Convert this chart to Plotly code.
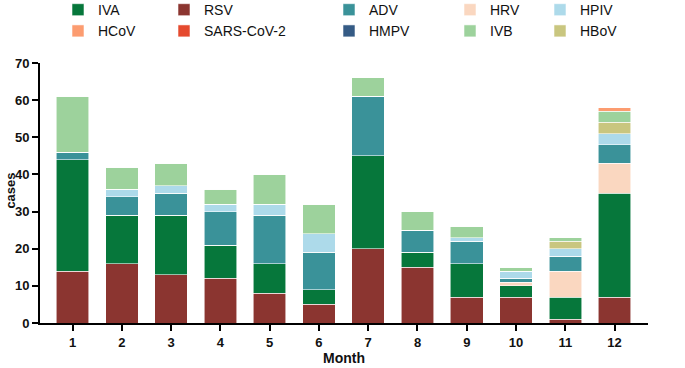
import plotly.graph_objects as go

months = [1, 2, 3, 4, 5, 6, 7, 8, 9, 10, 11, 12]

# stacked from bottom to top
RSV  = [14, 16, 13, 12, 8, 5, 20, 15, 7, 7, 1, 7]
IVA  = [30, 13, 16, 9, 8, 4, 25, 4, 9, 3, 6, 28]
HRV  = [0, 0, 0, 0, 0, 0, 0, 0, 0, 1, 7, 8]
ADV  = [2, 5, 6, 9, 13, 10, 16, 6, 6, 1, 4, 5]
HMPV = [0, 0, 0, 0, 0, 0, 0, 0, 0, 0, 0, 0]
HPIV = [0, 2, 2, 2, 3, 5, 0, 0, 1, 2, 2, 3]
HBoV = [0, 0, 0, 0, 0, 0, 0, 0, 0, 0, 2, 3]
IVB  = [15, 6, 6, 4, 8, 8, 5, 5, 3, 1, 1, 3]
HCoV = [0, 0, 0, 0, 0, 0, 0, 0, 0, 0, 0, 1]
SARS = [0, 0, 0, 0, 0, 0, 0, 0, 0, 0, 0, 0]

series = [
    ("RSV", RSV, "#8B3530", "legend2"),
    ("IVA", IVA, "#06773B", "legend"),
    ("HRV", HRV, "#FAD7C0", "legend4"),
    ("ADV", ADV, "#3A9299", "legend3"),
    ("HMPV", HMPV, "#355B85", "legend3"),
    ("HPIV", HPIV, "#ADDAEA", "legend5"),
    ("HBoV", HBoV, "#C9C67F", "legend5"),
    ("IVB", IVB, "#9DD29C", "legend4"),
    ("HCoV", HCoV, "#FC9C70", "legend"),
    ("SARS-CoV-2", SARS, "#E54A2E", "legend2"),
]
legend_rank = {"IVA": 1, "HCoV": 2, "RSV": 1, "SARS-CoV-2": 2, "ADV": 1, "HMPV": 2,
               "HRV": 1, "IVB": 2, "HPIV": 1, "HBoV": 2}

fig = go.Figure()
for name, vals, color, lg in series:
    fig.add_trace(go.Bar(
        x=months, y=vals, name=name, legend=lg, legendrank=legend_rank[name],
        marker=dict(color=color, line=dict(color="rgba(255,255,255,0.7)", width=0.8)),
        width=0.66,
    ))

W, H = 685, 368
font = "Liberation Sans, Arial, sans-serif"
leg_common = dict(orientation="v", xref="container", yref="paper",
                  yanchor="top", xanchor="left", traceorder="normal",
                  font=dict(family=font, size=14, color="#111"),
                  bgcolor="rgba(0,0,0,0)", itemclick=False)
col_x = [58, 164, 329, 450, 540]
legs = {}
for i, lx in enumerate(col_x):
    key = "legend" if i == 0 else f"legend{i+1}"
    legs[key] = dict(leg_common, x=lx / W, y=1.265)

fig.update_layout(
    width=W, height=H, barmode="stack",
    margin=dict(l=40, r=37, t=63, b=45, autoexpand=False),
    plot_bgcolor="white", paper_bgcolor="white",
    font=dict(family=font, color="#111"),
    showlegend=True,
    **legs,
)
fig.add_annotation(
    text="<b>cases</b>", xref="paper", yref="paper", x=-0.049, y=0.51,
    textangle=-90, showarrow=False, xanchor="center", yanchor="middle",
    font=dict(family=font, size=13, color="#111"),
)
fig.update_xaxes(
    range=[0.336, 12.68], tickvals=months, ticktext=[str(m) for m in months],
    showline=True, linecolor="black", linewidth=2, ticks="outside", ticklen=6,
    tickwidth=2, tickcolor="black", showgrid=False, zeroline=False,
    tickfont=dict(family=font, size=13, color="#111", weight="bold"),
    title=dict(text="<b>Month</b>", font=dict(family=font, size=14, color="#111"), standoff=4),
)
fig.update_yaxes(
    range=[0, 70], tickvals=[0, 10, 20, 30, 40, 50, 60, 70],
    showline=True, linecolor="black", linewidth=2, ticks="outside", ticklen=6,
    tickwidth=2, tickcolor="black", showgrid=False, zeroline=False,
    tickfont=dict(family=font, size=13, color="#111", weight="bold"),
)
fig.write_html("out.html", config={"displayModeBar": False},
               post_script="document.body.style.margin='0';")
